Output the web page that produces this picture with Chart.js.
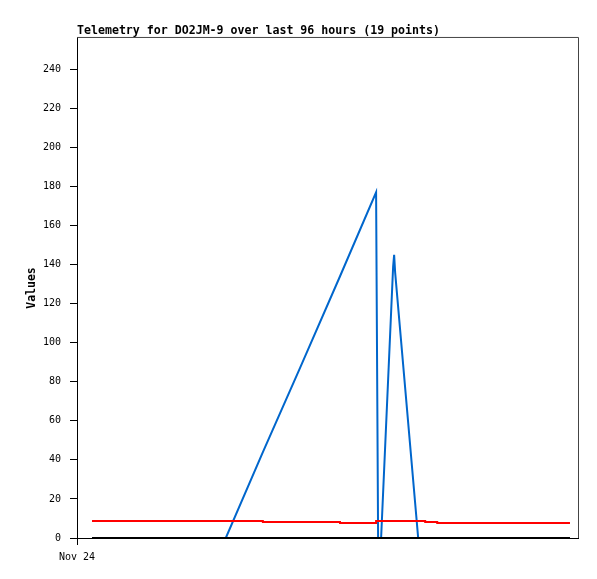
<!DOCTYPE html>
<html>
<head>
<meta charset="utf-8">
<style>
  html, body { margin: 0; padding: 0; background: #fff; }
  #telemetryChart { display: block; }
</style>
</head>
<body>
<canvas id="telemetryChart" width="597" height="579"></canvas>
<script src="https://cdn.jsdelivr.net/npm/chart.js"></script>
<script>
    // hours since start of the axis (axis runs 0..100)
    const hours = [3.0, 12.6, 22.6, 29.7, 37.1, 44.5, 52.5, 59.7, 60.1, 60.7, 63.1, 63.3, 63.5, 68.1, 69.5, 71.9, 80.4, 89.4, 98.4];
    const blueValues = [0, 0, 0, 0, 44, 87, 134, 177, 0, 0, 139, 145, 136, 0, 0, 0, 0, 0, 0];
    const redValues = [8.7, 8.7, 8.7, 8.7, 8.2, 8.2, 7.7, 8.7, 8.7, 8.7, 8.7, 8.7, 8.7, 8.7, 8.2, 7.7, 7.7, 7.7, 7.7];
    const blackValues = [0, 0, 0, 0, 0, 0, 0, 0, 0, 0, 0, 0, 0, 0, 0, 0, 0, 0, 0];
    const xTickLabels = ['Nov 24'];
    const yMax = 256;

    const toPoints = (vals) => vals.map((v, i) => ({ x: hours[i], y: v }));

    // gray frame on top and right of the plot
    const framePlugin = {
        id: 'frame',
        afterDraw(chart) {
            const { ctx, chartArea } = chart;
            ctx.save();
            ctx.strokeStyle = '#444';
            ctx.lineWidth = 1;
            ctx.beginPath();
            ctx.moveTo(chartArea.left, chartArea.top - 0.5);
            ctx.lineTo(chartArea.right + 0.5, chartArea.top - 0.5);
            ctx.lineTo(chartArea.right + 0.5, chartArea.bottom);
            ctx.stroke();
            ctx.restore();
        }
    };

    const mono = "'DejaVu Sans Mono', monospace";

    const ctx = document.getElementById('telemetryChart').getContext('2d');
    const telemetryChart = new Chart(ctx, {
        type: 'line',
        data: {
            datasets: [
                {
                    label: 'black',
                    data: toPoints(blackValues),
                    borderColor: '#000000',
                    borderWidth: 2,
                    pointRadius: 0,
                    tension: 0
                },
                {
                    label: 'red',
                    data: toPoints(redValues),
                    borderColor: '#ff0000',
                    borderWidth: 2,
                    pointRadius: 0,
                    stepped: true
                },
                {
                    label: 'blue',
                    data: toPoints(blueValues),
                    borderColor: '#0066cc',
                    borderWidth: 2,
                    pointRadius: 0,
                    tension: 0
                }
            ]
        },
        options: {
            responsive: false,
            animation: false,
            devicePixelRatio: 1,
            layout: { padding: { left: 0, right: 19, top: 0, bottom: 0 } },
            plugins: {
                legend: { display: false },
                tooltip: { enabled: false },
                title: {
                    display: true,
                    text: 'Telemetry for DO2JM-9 over last 96 hours (19 points)',
                    align: 'start',
                    fullSize: false,
                    color: '#000',
                    font: { family: mono, size: 11.6, weight: 'bold', lineHeight: 1.1 },
                    padding: { top: 25, bottom: 0.2 }
                }
            },
            scales: {
                x: {
                    type: 'linear',
                    min: 0,
                    max: 100,
                    afterBuildTicks: (scale) => { scale.ticks = [{ value: 0 }]; },
                    afterFit: (scale) => { scale.height = 41; },
                    grid: { drawOnChartArea: false, drawTicks: true, tickLength: 7, color: '#000' },
                    border: { color: '#000', width: 1 },
                    ticks: {
                        autoSkip: false,
                        maxRotation: 0,
                        padding: 6,
                        color: '#000',
                        font: { family: mono, size: 10 },
                        callback: (v, i) => xTickLabels[i]
                    }
                },
                y: {
                    min: 0,
                    max: yMax,
                    afterFit: (scale) => { scale.width = 77; },
                    grid: { drawOnChartArea: false, drawTicks: true, tickLength: 7, color: '#000' },
                    border: { color: '#000', width: 1 },
                    ticks: {
                        stepSize: 20,
                        includeBounds: false,
                        padding: 9,
                        color: '#000',
                        font: { family: mono, size: 10 }
                    },
                    title: {
                        display: true,
                        text: 'Values',
                        color: '#000',
                        font: { family: mono, size: 11.5, weight: 'bold', lineHeight: 1.2 },
                        padding: { top: 25, bottom: 0 }
                    }
                }
            }
        },
        plugins: [framePlugin]
    });
</script>
</body>
</html>
